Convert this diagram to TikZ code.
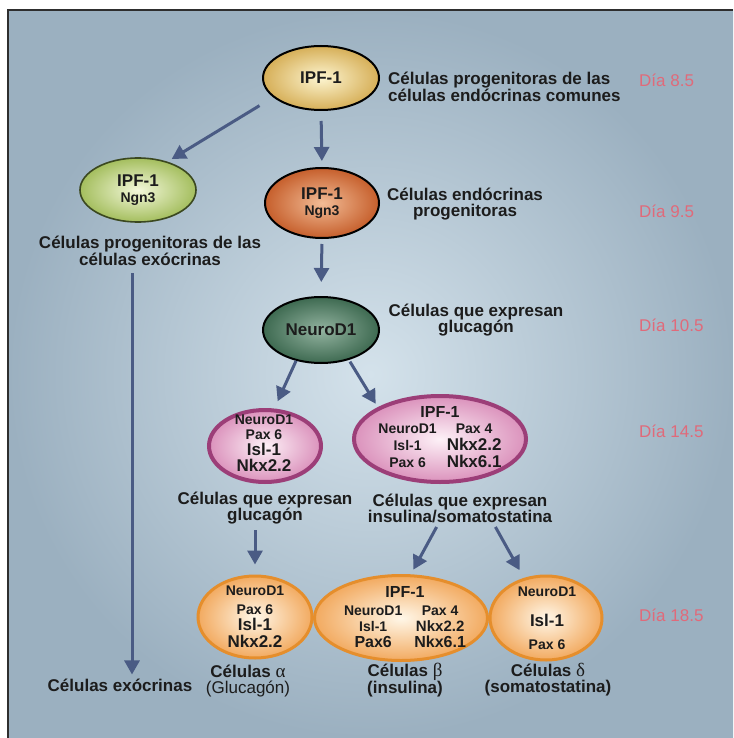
\documentclass[tikz,border=0pt]{standalone}
\usepackage{fontspec}
\setmainfont{Liberation Sans}
\newfontfamily\griega{Liberation Serif}
\usetikzlibrary{shapes.geometric, arrows.meta}

\definecolor{fondoin}{HTML}{D4E2EB}
\definecolor{fondoout}{HTML}{9BB0C0}
\definecolor{marco}{HTML}{2E2E2E}
\definecolor{azulflecha}{HTML}{4A5B84}
\definecolor{rojodia}{HTML}{E06A7A}
\definecolor{texto}{HTML}{1C1C1C}
\definecolor{amaIn}{HTML}{FDF5D0}
\definecolor{amaOut}{HTML}{D6AF58}
\definecolor{verIn}{HTML}{F3F8DA}
\definecolor{verOut}{HTML}{A4BE5E}
\definecolor{verBorde}{HTML}{3B4820}
\definecolor{narIn}{HTML}{F2BC96}
\definecolor{narOut}{HTML}{C65F2C}
\definecolor{neuIn}{HTML}{93B3A0}
\definecolor{neuOut}{HTML}{3E6A51}
\definecolor{rosIn}{HTML}{FDF1F7}
\definecolor{rosOut}{HTML}{DB92BC}
\definecolor{rosBorde}{HTML}{9C3E78}
\definecolor{durIn}{HTML}{FFF7E8}
\definecolor{durOut}{HTML}{F2AA60}
\definecolor{durBorde}{HTML}{E58E2C}

\newcommand{\tam}[1]{\fontsize{#1}{16}\selectfont}

\tikzset{
	celula/.style={ellipse, inner sep=0pt, line width=2pt, font=\bfseries\tam{17}, text=texto, align=center},
	amarilla/.style={celula, draw=black, inner color=amaIn, outer color=amaOut},
	verde/.style={celula, draw=verBorde, line width=1.6pt, inner color=verIn, outer color=verOut},
	naranja/.style={celula, draw=black, inner color=narIn, outer color=narOut},
	oscura/.style={celula, draw=black, inner color=neuIn, outer color=neuOut},
	rosa/.style={celula, draw=rosBorde, line width=4pt, inner color=rosIn, outer color=rosOut},
	dorada/.style={celula, draw=durBorde, line width=3pt, inner color=durIn, outer color=durOut},
	genes/.style={font=\bfseries\tam{14}, text=texto, align=center, inner sep=0pt},
	rotulo/.style={font=\bfseries\tam{17}, text=texto, align=center, inner sep=0pt},
	dia/.style={font=\fontsize{17}{17}\selectfont, text=rojodia, anchor=west, inner sep=0pt},
	flecha/.style={draw=azulflecha, line width=3pt, -{Triangle[length=14pt, width=15pt]}}
}

\begin{document}
\begin{tikzpicture}[x=1pt, y=-1pt]
	\useasboundingbox (0,0) rectangle (733,738);
	\fill[inner color=fondoin, outer color=fondoout] (8,10) rectangle (733,738);
	\draw[marco, line width=2.5pt] (8,738) -- (8,10) -- (733,10);

	\node[amarilla, minimum width=116pt, minimum height=64pt] (ipf) at (321,78) {IPF-1};
	\node[verde, minimum width=116pt, minimum height=64pt] (exo) at (138,190) {IPF-1\\{\tam{14}Ngn3}};
	\node[naranja, minimum width=114pt, minimum height=70pt] (endo) at (322,203) {IPF-1\\{\tam{14}Ngn3}};
	\node[oscura, minimum width=116pt, minimum height=66pt] (neuro) at (321,330) {NeuroD1};

	\node[rosa, minimum width=112pt, minimum height=72pt] (glu) at (265,446) {};
	\node[genes] (gluG) at (264,443) {NeuroD1\\[-1pt]Pax 6\\{\tam{17}Isl-1}\\{\tam{17}Nkx2.2}};
	\node[rosa, minimum width=172pt, minimum height=86pt] (insul) at (440,439) {};
	\node[genes] (insulG) at (440,439) {\begin{tabular}{@{}c@{\hspace{10pt}}c@{}}
		\multicolumn{2}{c}{\tam{16}IPF-1}\\
		NeuroD1 & Pax 4\\
		Isl-1 & {\tam{17}Nkx2.2}\\
		Pax 6 & {\tam{17}Nkx6.1}
	\end{tabular}};

	\node[dorada, minimum width=114pt, minimum height=82pt] (alfa) at (255,617) {};
	\node[genes] (alfaG) at (255,617) {NeuroD1\\[3pt]Pax 6\\{\tam{17}Isl-1}\\[1pt]{\tam{17}Nkx2.2}};
	\node[dorada, minimum width=173pt, minimum height=85pt] (beta) at (401,618) {};
	\node[genes] (betaG) at (405,619) {\begin{tabular}{@{}c@{\hspace{12pt}}c@{}}
		\multicolumn{2}{c}{\tam{16}IPF-1}\\[2pt]
		NeuroD1 & Pax 4\\
		Isl-1 & {\tam{15}Nkx2.2}\\
		{\tam{16}Pax6} & {\tam{16}Nkx6.1}
	\end{tabular}};
	\node[dorada, minimum width=112pt, minimum height=84pt] (delta) at (546,618) {};
	\node[genes] (deltaG) at (547,618) {NeuroD1\\[14pt]{\tam{17}Isl-1}\\[7pt]Pax 6};

	\node[rotulo, align=left, anchor=west] (topTxt) at (388,87) {Células progenitoras de las\\células endócrinas comunes};
	\node[rotulo] (endoTxt) at (465,204) {Células endócrinas\\progenitoras};
	\node[rotulo] (exoTxt) at (150,251) {Células progenitoras de las\\células exócrinas};
	\node[rotulo] (neuroTxt) at (476,320) {Células que expresan\\glucagón};
	\node[rotulo] (gluTxt) at (265,508) {Células que expresan\\glucagón};
	\node[rotulo] (insTxt) at (460,508) {Células que expresan\\insulina/somatostatina};
	\node[rotulo] (celexo) at (120,685) {Células exócrinas};
	\node[rotulo] (alfaTxt) at (248,681) {Células {\griega\mdseries\fontsize{19}{16}\selectfont α}\\{\mdseries (Glucagón)}};
	\node[rotulo] (betaTxt) at (405,680) {Células {\griega\mdseries\fontsize{19}{16}\selectfont β}\\(insulina)};
	\node[rotulo] (deltaTxt) at (548,680) {Células {\griega\mdseries\fontsize{19}{16}\selectfont δ}\\(somatostatina)};

	\node[dia] (d85) at (639,80) {Día 8.5};
	\node[dia] (d95) at (639,211) {Día 9.5};
	\node[dia] (d105) at (639,325) {Día 10.5};
	\node[dia] (d145) at (639,431) {Día 14.5};
	\node[dia] (d185) at (639,615) {Día 18.5};

	\draw[flecha, shorten <=16pt, shorten >=5pt] (ipf.202) -- (exo.44);
	\draw[flecha, shorten <=10pt, shorten >=6pt] (ipf.south) -- (endo.north);
	\draw[flecha, shorten <=5pt, shorten >=14pt] (endo.south) -- (neuro.north);
	\draw[flecha, shorten >=8pt] (neuro.-129) -- (glu.76);
	\draw[flecha, shorten <=2pt, shorten >=4pt] (neuro.-47) -- (insul.north west);
	\coordinate (baja) at (132,273);
	\draw[flecha, shorten >=4pt] (baja) -- (baja |- celexo.north);
	\draw[flecha, shorten <=6pt, shorten >=10pt] (gluTxt.south -| alfa.north) -- (alfa.north);
	\draw[flecha, shorten <=5pt, shorten >=5pt] ([xshift=-21pt]insTxt.south) -- ([xshift=10pt]beta.north);
	\draw[flecha, shorten <=5pt, shorten >=5pt] ([xshift=33pt]insTxt.south) -- ([xshift=-24pt]delta.north);
\end{tikzpicture}
\end{document}
